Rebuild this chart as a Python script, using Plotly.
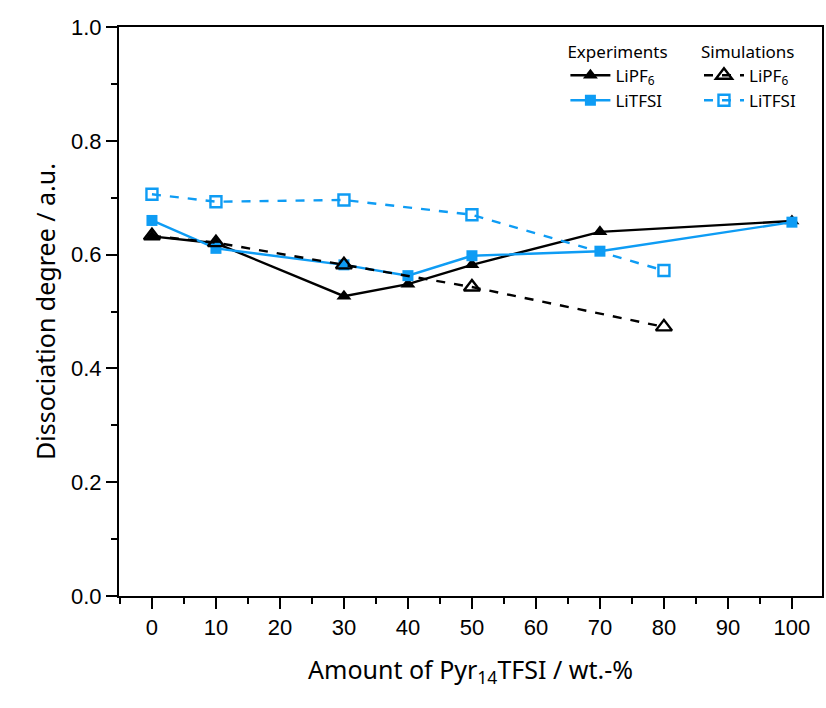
import plotly.graph_objects as go

# Data
exp_x = [0, 10, 30, 40, 50, 70, 100]
exp_lipf6 = [0.632, 0.620, 0.527, 0.548, 0.582, 0.640, 0.659]
exp_litfsi = [0.660, 0.611, 0.582, 0.563, 0.598, 0.606, 0.657]

sim_x = [0, 10, 30, 50, 80]
sim_lipf6 = [0.633, 0.621, 0.582, 0.543, 0.473]
sim_litfsi = [0.706, 0.693, 0.696, 0.670, 0.572]

x_ticks = [0, 10, 20, 30, 40, 50, 60, 70, 80, 90, 100]
y_ticks = [0.0, 0.2, 0.4, 0.6, 0.8, 1.0]

BLACK = "#000000"
BLUE = "#0E9CF4"

fig = go.Figure()
fig.add_trace(go.Scatter(
    x=exp_x, y=exp_lipf6, mode="lines+markers", name="LiPF<sub>6</sub>",
    line=dict(color=BLACK, width=2.4),
    marker=dict(symbol="triangle-up", size=13, color=BLACK),
    legend="legend"))
fig.add_trace(go.Scatter(
    x=exp_x, y=exp_litfsi, mode="lines+markers", name="LiTFSI",
    line=dict(color=BLUE, width=2.4),
    marker=dict(symbol="square", size=11, color=BLUE),
    legend="legend"))
fig.add_trace(go.Scatter(
    x=sim_x, y=sim_lipf6, mode="lines+markers", name="LiPF<sub>6</sub>",
    line=dict(color=BLACK, width=2.4, dash="dash"),
    marker=dict(symbol="triangle-up-open", size=14, color=BLACK, line=dict(width=2.4)),
    legend="legend2"))
fig.add_trace(go.Scatter(
    x=sim_x, y=sim_litfsi, mode="lines+markers", name="LiTFSI",
    line=dict(color=BLUE, width=2.4, dash="dash"),
    marker=dict(symbol="square-open", size=11, color=BLUE, line=dict(width=2.4)),
    legend="legend2"))

axis_common = dict(
    showline=True, linecolor="black", linewidth=2, mirror=True,
    ticks="outside", ticklen=11, tickwidth=2, tickcolor="black",
    showgrid=False, zeroline=False,
    tickfont=dict(family="Liberation Sans", size=22, color="black"),
)
title_font = dict(family="Noto Sans", size=25, color="black")

fig.update_xaxes(
    range=[-5.15, 104.7], tickvals=x_ticks, ticktext=[str(v) for v in x_ticks],
    minor=dict(ticks="outside", ticklen=6, tickwidth=2, tickcolor="black", dtick=5, tick0=0),
    title=dict(text="Amount of Pyr<sub>14</sub>TFSI / wt.-%", font=title_font, standoff=22),
    **axis_common)
fig.update_yaxes(
    range=[0, 1.0], tickvals=y_ticks, ticktext=[f"{v:.1f}" for v in y_ticks],
    minor=dict(ticks="outside", ticklen=6, tickwidth=2, tickcolor="black", dtick=0.1, tick0=0),
    title=dict(text="Dissociation degree / a.u.", font=title_font, standoff=8),
    **axis_common)

legend_font = dict(family="Noto Sans", size=17, color="black")
fig.update_layout(
    width=826, height=708,
    margin=dict(l=119, r=2, t=27, b=112),
    paper_bgcolor="white", plot_bgcolor="white",
    legend=dict(title=dict(text="Experiments", font=legend_font, side="top"),
                font=legend_font, x=0.635, y=0.985, xanchor="left", yanchor="top",
                bgcolor="rgba(0,0,0,0)", tracegroupgap=0, itemwidth=40),
    legend2=dict(title=dict(text="Simulations", font=legend_font, side="top"),
                 font=legend_font, x=0.825, y=0.985, xanchor="left", yanchor="top",
                 bgcolor="rgba(0,0,0,0)", tracegroupgap=0, itemwidth=40),
)

fig.write_html("out.html")
